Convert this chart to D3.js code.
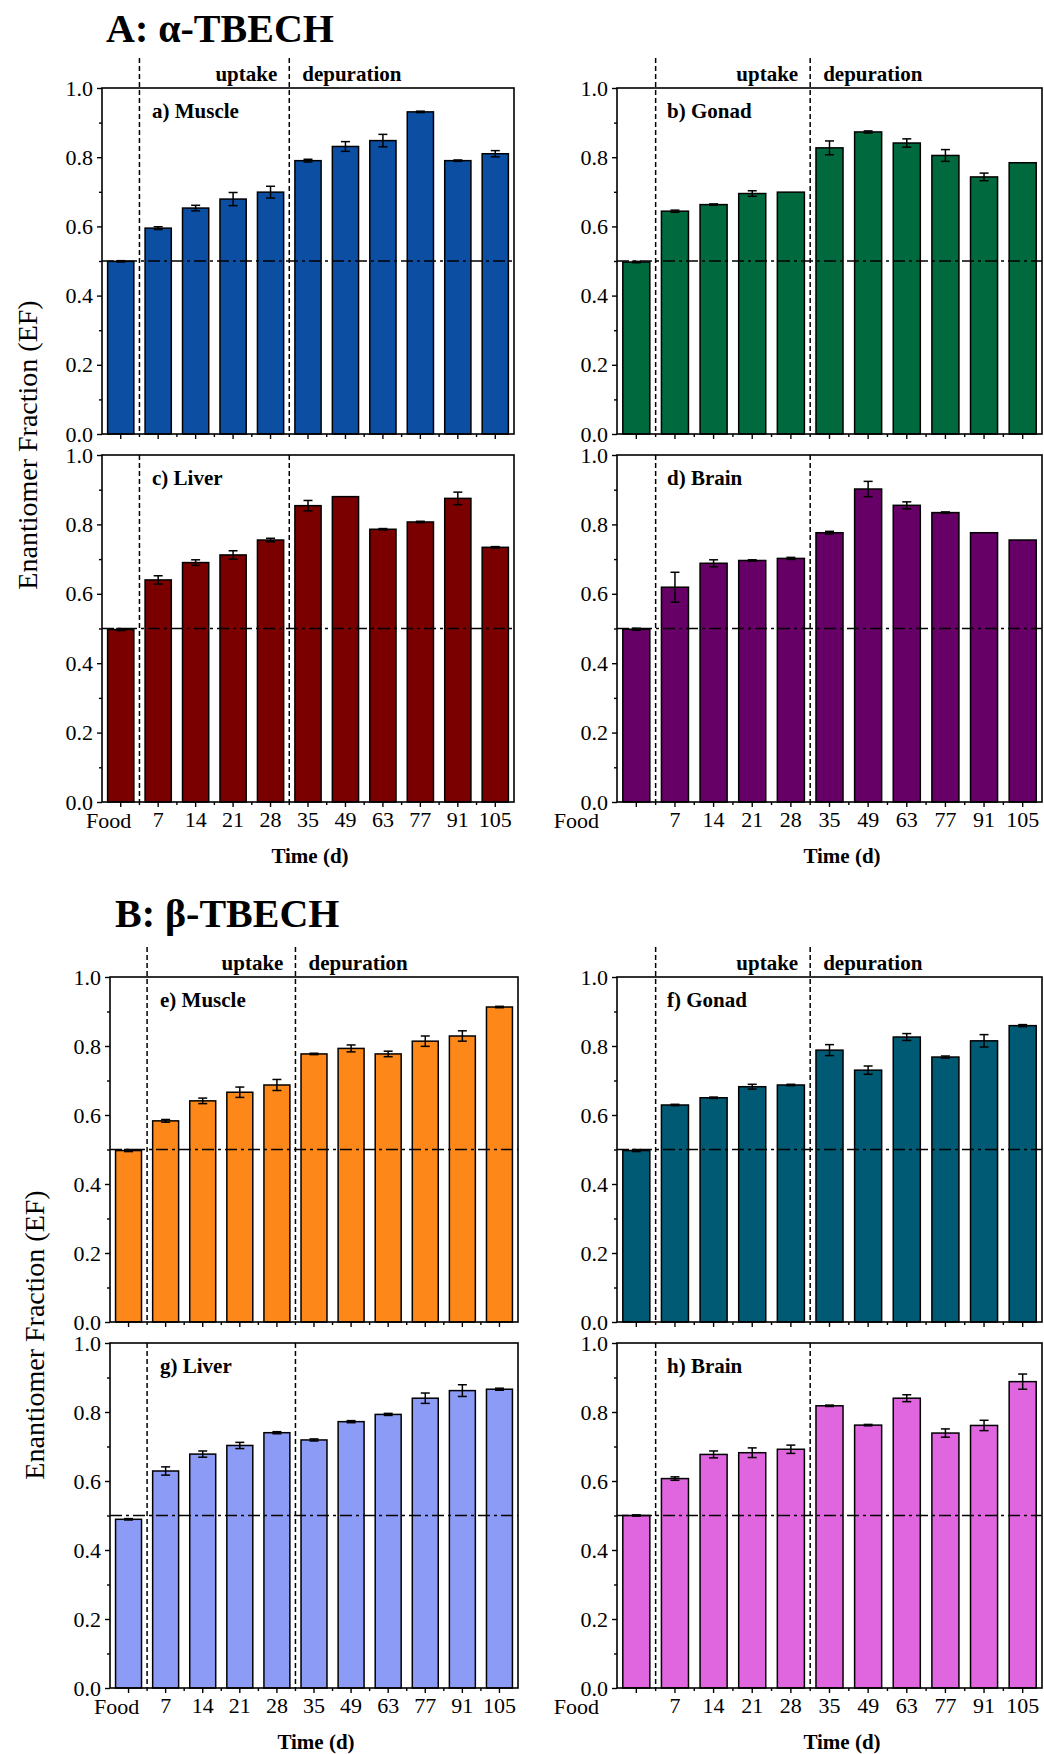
<!DOCTYPE html>
<html>
<head>
<meta charset="utf-8">
<script src="https://cdn.jsdelivr.net/npm/d3@7"></script>
<style>
  body { margin: 0; background: #fff; }
  svg text { font-family: "Liberation Serif", "Times New Roman", serif; fill: #000; }
</style>
</head>
<body>
<div class="chart"></div>
<script>
// categories (sampling day)
const days = ["Food", "7", "14", "21", "28", "35", "49", "63", "77", "91", "105"];
const yTicks = [0, 0.2, 0.4, 0.6, 0.8, 1.0];
const yMinor = [0.1, 0.3, 0.5, 0.7, 0.9];

// alpha-TBECH
const muscleA    = [0.499, 0.595, 0.653, 0.679, 0.699, 0.790, 0.831, 0.848, 0.931, 0.790, 0.810];
const muscleAErr = [0.002, 0.004, 0.008, 0.019, 0.017, 0.004, 0.014, 0.018, 0.002, 0.002, 0.009];
const gonadA     = [0.497, 0.644, 0.663, 0.695, 0.699, 0.827, 0.873, 0.841, 0.805, 0.743, 0.784];
const gonadAErr  = [0.002, 0.003, 0.002, 0.008, 0.000, 0.020, 0.003, 0.012, 0.017, 0.011, 0.000];
const liverA     = [0.497, 0.640, 0.690, 0.712, 0.755, 0.854, 0.880, 0.786, 0.807, 0.875, 0.734];
const liverAErr  = [0.003, 0.012, 0.008, 0.012, 0.005, 0.015, 0.000, 0.002, 0.002, 0.018, 0.002];
const brainA     = [0.498, 0.619, 0.688, 0.696, 0.702, 0.776, 0.902, 0.855, 0.834, 0.776, 0.755];
const brainAErr  = [0.003, 0.043, 0.010, 0.002, 0.003, 0.004, 0.022, 0.010, 0.002, 0.000, 0.000];

// beta-TBECH
const muscleB    = [0.497, 0.583, 0.641, 0.666, 0.687, 0.777, 0.793, 0.777, 0.814, 0.829, 0.913];
const muscleBErr = [0.003, 0.004, 0.008, 0.015, 0.016, 0.002, 0.010, 0.008, 0.015, 0.015, 0.002];
const gonadB     = [0.497, 0.629, 0.650, 0.682, 0.687, 0.788, 0.730, 0.826, 0.768, 0.815, 0.859];
const gonadBErr  = [0.003, 0.002, 0.002, 0.007, 0.002, 0.016, 0.012, 0.010, 0.003, 0.018, 0.003];
const liverB     = [0.489, 0.629, 0.678, 0.703, 0.740, 0.719, 0.772, 0.793, 0.840, 0.862, 0.866];
const liverBErr  = [0.002, 0.012, 0.009, 0.009, 0.003, 0.003, 0.003, 0.003, 0.015, 0.017, 0.003];
const brainB     = [0.500, 0.607, 0.677, 0.682, 0.692, 0.818, 0.762, 0.840, 0.739, 0.761, 0.888];
const brainBErr  = [0.002, 0.005, 0.010, 0.014, 0.012, 0.002, 0.002, 0.010, 0.012, 0.015, 0.022];

const width = 1044, height = 1754;

var svg = d3.select(".chart").append("svg")
    .attr("width", width)
    .attr("height", height)
    .attr("font-family", "Liberation Serif, Times New Roman, serif");

// panel layout
const panels = [
  {label: "a) Muscle", vals: muscleA, errs: muscleAErr, colour: "#0b4ea2", x0: 102, x1: 514,  y0: 88,   y1: 434,  top: true,  right: false},
  {label: "b) Gonad",  vals: gonadA,  errs: gonadAErr,  colour: "#006a3e", x0: 617, x1: 1042, y0: 88,   y1: 434,  top: true,  right: true},
  {label: "c) Liver",  vals: liverA,  errs: liverAErr,  colour: "#7a0000", x0: 102, x1: 514,  y0: 455,  y1: 802,  top: false, right: false},
  {label: "d) Brain",  vals: brainA,  errs: brainAErr,  colour: "#660066", x0: 617, x1: 1042, y0: 455,  y1: 802,  top: false, right: true},
  {label: "e) Muscle", vals: muscleB, errs: muscleBErr, colour: "#fd8718", x0: 110, x1: 518,  y0: 977,  y1: 1322, top: true,  right: false},
  {label: "f) Gonad",  vals: gonadB,  errs: gonadBErr,  colour: "#005a73", x0: 617, x1: 1042, y0: 977,  y1: 1322, top: true,  right: true},
  {label: "g) Liver",  vals: liverB,  errs: liverBErr,  colour: "#8c9bf6", x0: 110, x1: 518,  y0: 1343, y1: 1688, top: false, right: false},
  {label: "h) Brain",  vals: brainB,  errs: brainBErr,  colour: "#e066e0", x0: 617, x1: 1042, y0: 1343, y1: 1688, top: false, right: true}
];

panels.forEach(drawPanel);

function drawPanel(p) {
    var x = d3.scaleBand()
        .domain(days)
        .range([p.x0, p.x1])
        .paddingInner(0.3)
        .paddingOuter(0.15);
    var y = d3.scaleLinear()
        .domain([0, 1])
        .range([p.y1, p.y0]);

    var data = days.map(function(d, i) { return {day: d, v: p.vals[i], e: p.errs[i]}; });
    var g = svg.append("g");

    // boundary between two bands
    function edge(d) { return x(d) - (x.step() - x.bandwidth()) / 2; }

    g.selectAll("rect.bar")
        .data(data)
        .enter()
        .append("rect")
        .attr("class", "bar")
        .attr("x", function(d) { return x(d.day); })
        .attr("y", function(d) { return y(d.v); })
        .attr("width", x.bandwidth())
        .attr("height", function(d) { return y(0) - y(d.v); })
        .attr("fill", p.colour)
        .attr("stroke", "#000")
        .attr("stroke-width", 1.5);

    // error bars
    var eb = g.selectAll("g.err")
        .data(data.filter(function(d) { return d.e > 0; }))
        .enter()
        .append("g")
        .attr("stroke", "#000")
        .attr("stroke-width", 1.5);
    eb.append("line")
        .attr("x1", function(d) { return x(d.day) + x.bandwidth() / 2; })
        .attr("x2", function(d) { return x(d.day) + x.bandwidth() / 2; })
        .attr("y1", function(d) { return y(d.v - d.e); })
        .attr("y2", function(d) { return y(d.v + d.e); });
    [-1, 1].forEach(function(s) {
        eb.append("line")
            .attr("x1", function(d) { return x(d.day) + x.bandwidth() / 2 - 4.5; })
            .attr("x2", function(d) { return x(d.day) + x.bandwidth() / 2 + 4.5; })
            .attr("y1", function(d) { return y(d.v + s * d.e); })
            .attr("y2", function(d) { return y(d.v + s * d.e); });
    });

    // EF = 0.5 reference line
    g.append("line")
        .attr("x1", p.x0).attr("x2", p.x1)
        .attr("y1", y(0.5)).attr("y2", y(0.5))
        .attr("stroke", "#000")
        .attr("stroke-width", 1.3)
        .attr("stroke-dasharray", "12,4,3,4");

    // phase dividers
    ["7", "35"].forEach(function(d) {
        g.append("line")
            .attr("x1", edge(d)).attr("x2", edge(d))
            .attr("y1", p.top ? p.y0 - 30 : p.y0)
            .attr("y2", p.y1)
            .attr("stroke", "#000")
            .attr("stroke-width", 1.5)
            .attr("stroke-dasharray", "5,3");
    });

    // frame
    g.append("rect")
        .attr("x", p.x0).attr("y", p.y0)
        .attr("width", p.x1 - p.x0).attr("height", p.y1 - p.y0)
        .attr("fill", "none")
        .attr("stroke", "#000")
        .attr("stroke-width", 1.6);

    // y axis
    var ya = g.append("g")
        .attr("transform", "translate(" + p.x0 + ",0)")
        .call(d3.axisLeft(y).tickValues(yTicks).tickFormat(d3.format(".1f")).tickSize(5).tickPadding(4).tickSizeOuter(0));
    g.append("g")
        .attr("transform", "translate(" + p.x0 + ",0)")
        .call(d3.axisLeft(y).tickValues(yMinor).tickFormat("").tickSize(3).tickSizeOuter(0));

    // x axis
    var xa = g.append("g")
        .attr("transform", "translate(0," + p.y1 + ")")
        .call(d3.axisBottom(x).tickSize(5).tickPadding(4).tickSizeOuter(0));
    g.append("g")
        .attr("transform", "translate(0," + p.y1 + ")")
        .call(d3.axisBottom(x).tickValues(days.slice(1)).tickFormat("").tickSize(3).tickSizeOuter(0))
        .selectAll(".tick")
        .attr("transform", function(d) { return "translate(" + edge(d) + ",0)"; });

    g.selectAll(".domain").remove();
    g.selectAll(".tick line").attr("stroke", "#000").attr("stroke-width", 1.4);
    g.selectAll(".tick text")
        .attr("font-family", "Liberation Serif, Times New Roman, serif")
        .style("font-size", "22px");

    if (p.top) {
        xa.selectAll("text").remove();
        g.append("text")
            .attr("x", edge("35") - 12).attr("y", p.y0 - 7)
            .attr("text-anchor", "end")
            .style("font-size", "21px").style("font-weight", "bold")
            .text("uptake");
        g.append("text")
            .attr("x", edge("35") + 13).attr("y", p.y0 - 7)
            .style("font-size", "21px").style("font-weight", "bold")
            .text("depuration");
    } else {
        xa.selectAll(".tick text")
            .filter(function(d) { return d === "Food"; })
            .attr("x", p.right ? -60 : -12)
            .attr("y", 10);
        g.append("text")
            .attr("x", p.right ? 842 : (p.x0 + p.x1) / 2 + 2)
            .attr("y", p.y1 + 61)
            .attr("text-anchor", "middle")
            .style("font-size", "21px").style("font-weight", "bold")
            .text("Time (d)");
    }

    g.append("text")
        .attr("x", p.x0 + 50).attr("y", p.y0 + 30)
        .style("font-size", "21px").style("font-weight", "bold")
        .text(p.label);
}

// section titles
svg.append("text").attr("x", 106).attr("y", 42)
    .style("font-size", "40px").style("font-weight", "bold")
    .text("A: α-TBECH");
svg.append("text").attr("x", 115).attr("y", 927)
    .style("font-size", "40px").style("font-weight", "bold")
    .text("B: β-TBECH");

// y axis titles
[[37, 445], [44, 1335]].forEach(function(c) {
    svg.append("text")
        .attr("transform", "translate(" + c[0] + "," + c[1] + ") rotate(-90)")
        .attr("text-anchor", "middle")
        .style("font-size", "28px")
        .text("Enantiomer Fraction (EF)");
});
</script>
</body>
</html>
